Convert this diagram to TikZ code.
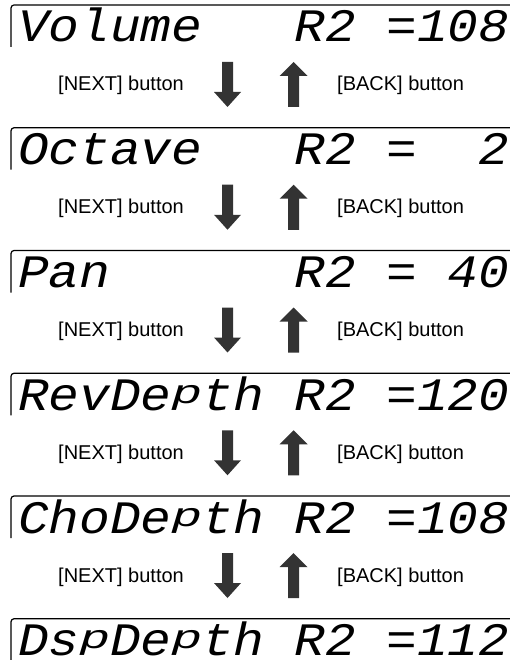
\documentclass[tikz,border=0pt]{standalone}
\usepackage{fontspec}
\setmainfont{Liberation Sans}
\newfontfamily\lcdfont{Liberation Mono}[FakeStretch=1.1]
\definecolor{arrowgray}{HTML}{333333}
\newcommand{\lcdp}{\raisebox{0.15em}{\scalebox{1}[0.72]{p}}}
\tikzset{
  lcdframe/.style={line width=1.2pt, black},
  lcdtext/.style={anchor=base west, inner sep=0pt, font=\lcdfont\itshape\fontsize{46.5}{46.5}\selectfont},
  btntext/.style={anchor=base west, inner sep=0pt, font=\fontsize{20}{24}\selectfont},
  bigarrow/.style={fill=arrowgray, draw=none}
}
\newcommand{\lcdbox}[3]{% #1 name, #2 top y, #3 text
  \draw[lcdframe] (11,#2+42) -- (11,#2+3) arc[start angle=180, end angle=270, radius=3] -- (511,#2);
  \node[lcdtext] (#1) at (18,#2+37) {#3};
}
\newcommand{\navrow}[2]{% #1 name, #2 offset
  \node[btntext] (#1n) at (58,#2+91) {[NEXT] button};
  \node[btntext] (#1b) at (337,#2+91) {[BACK] button};
  \fill[bigarrow] (222,#2+62) -- (233,#2+62) -- (233,#2+92) -- (241,#2+92) -- (227.5,#2+107) -- (214,#2+92) -- (222,#2+92) -- cycle;
  \fill[bigarrow] (288,#2+107) -- (299,#2+107) -- (299,#2+76) -- (307.5,#2+76) -- (293.5,#2+62) -- (279.5,#2+76) -- (288,#2+76) -- cycle;
}
\begin{document}
\begin{tikzpicture}[x=1pt,y=-1pt]
  \useasboundingbox (0,0) rectangle (510,660);
  \lcdbox{d1}{5}{Volume~~~R2~=108}
  \navrow{r1}{0}
  \lcdbox{d2}{127.75}{Octave~~~R2~=~~2}
  \navrow{r2}{122.75}
  \lcdbox{d3}{250.5}{Pan~~~~~~R2~=~40}
  \navrow{r3}{245.5}
  \lcdbox{d4}{373.25}{RevDe\lcdp th~R2~=120}
  \navrow{r4}{368.25}
  \lcdbox{d5}{496}{ChoDe\lcdp th~R2~=108}
  \navrow{r5}{491}
  \lcdbox{d6}{618.75}{Ds\lcdp De\lcdp th~R2~=112}
\end{tikzpicture}
\end{document}
